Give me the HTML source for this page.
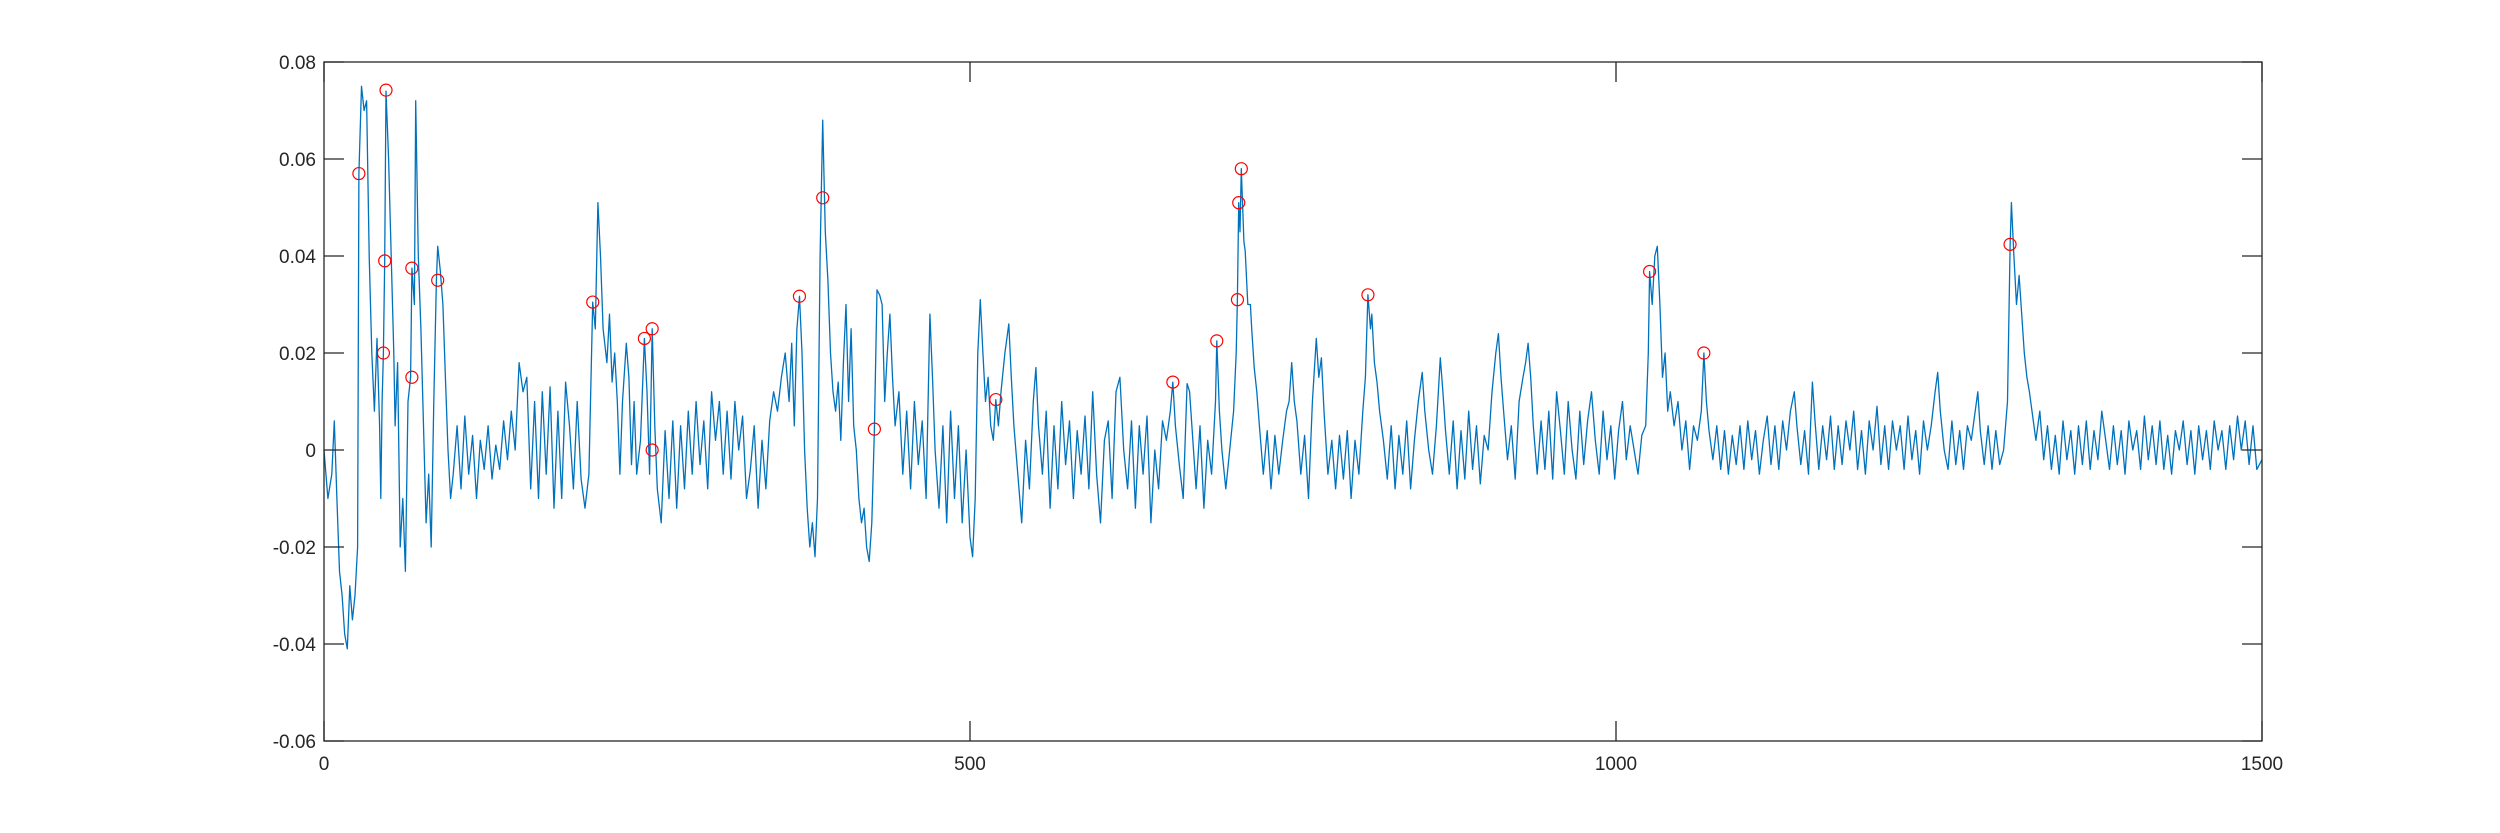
<!DOCTYPE html>
<html><head><meta charset="utf-8"><style>
html,body{margin:0;padding:0;background:#fff}
svg{display:block;font-family:"Liberation Sans",sans-serif}
</style></head><body>
<svg id="chart" width="2500" height="833" viewBox="0 0 2500 833">
<rect x="0" y="0" width="2500" height="833" fill="#fff"/>
<g id="plot"></g>
</svg>
<script>
const sampleX = [0,3,6,8,10,12,14,16,18,20,22,24,26,27,29,31,33,35,37,39,41,43,44,45,46,47,48,50,52,54,55,57,59,61,63,65,67,68,70,71,73,75,77,79,81,83,85,87,88,90,92,94,96,98,100,
103,106,109,112,115,118,121,124,127,130,133,136,139,142,145,148,151,154,157,160,163,166,169,172,175,178,181,184,187,190,193,196,199,202,205,208,210,212,214,216,219,221,223,225,227,229,231,234,236,238,240,242,245,248,250,252,254,256,258,261,264,267,270,273,276,279,282,285,288,291,294,297,300,
303,306,309,312,315,318,321,324,327,330,333,336,339,342,345,348,351,354,357,360,362,364,366,368,370,372,374,376,378,380,382,384,386,388,390,392,394,396,398,400,402,404,406,408,410,412,414,416,418,420,422,424,426,428,430,432,434,436,438,440,442,445,448,451,454,457,460,463,466,469,471,473,476,479,482,485,488,491,494,497,500,
502,504,506,508,510,512,514,516,518,520,522,524,527,530,532,534,537,540,543,546,549,551,553,556,559,562,565,568,571,574,577,580,583,586,589,592,595,598,601,604,607,610,613,616,619,622,625,628,631,634,637,640,643,646,649,652,655,657,659,662,665,668,670,672,675,678,681,684,687,690,691,693,695,698,
701,704,706,707,708,709,710,712,713,715,717,718,720,722,724,727,730,733,736,739,742,745,747,749,751,753,756,759,762,765,768,770,772,774,777,780,783,786,789,792,795,798,801,804,806,808,810,811,813,815,817,820,823,826,829,832,835,838,841,844,847,850,852,855,858,861,864,866,868,871,874,877,880,883,886,889,892,895,898,
901,904,907,909,911,913,916,919,922,925,928,930,932,934,936,939,942,945,948,951,954,957,960,963,966,969,972,975,978,981,984,987,990,993,996,999,1002,1005,1008,1011,1014,1017,1020,1023,1025,1026,1028,1030,1032,1034,1036,1038,1040,1042,1045,1048,1051,1054,1057,1060,1063,1066,1068,1070,1072,1075,1078,1081,1084,1087,1090,1093,1096,1099,
1102,1105,1108,1111,1114,1117,1120,1123,1126,1129,1132,1135,1138,1140,1143,1146,1149,1152,1154,1157,1160,1163,1166,1169,1172,1175,1178,1181,1184,1187,1190,1193,1196,1199,1202,1205,1208,1211,1214,1217,1220,1223,1226,1229,1232,1235,1238,1241,1244,1247,1249,1251,1254,1257,1260,1263,1266,1269,1272,1275,1278,1280,1282,1285,1288,1291,1294,1297,1300,
1303,1305,1306,1308,1310,1312,1314,1316,1318,1320,1322,1325,1328,1331,1334,1337,1340,1343,1346,1349,1352,1355,1358,1361,1364,1367,1370,1373,1376,1379,1382,1385,1388,1391,1394,1397,1400,1403,1406,1409,1412,1415,1418,1421,1424,1427,1430,1433,1436,1439,1442,1445,1448,1451,1454,1457,1460,1463,1466,1469,1472,1475,1478,1481,1484,1487,1490,1493,1496,1500];
const sampleY = [0,-0.01,-0.005,0.006,-0.01,-0.025,-0.03,-0.038,-0.041,-0.028,-0.035,-0.03,-0.02,0.057,0.075,0.07,0.072,0.04,0.02,0.008,0.023,0.005,-0.01,0.01,0.02,0.039,0.074,0.06,0.04,0.02,0.005,0.018,-0.02,-0.01,-0.025,0.01,0.015,0.0375,0.03,0.072,0.04,0.025,0.005,-0.015,-0.005,-0.02,0.01,0.035,0.042,0.037,0.03,0.015,0,-0.01,-0.005,
0.005,-0.008,0.007,-0.005,0.003,-0.01,0.002,-0.004,0.005,-0.006,0.001,-0.004,0.006,-0.002,0.008,0,0.018,0.012,0.015,-0.008,0.01,-0.01,0.012,-0.005,0.013,-0.012,0.008,-0.01,0.014,0.005,-0.008,0.01,-0.006,-0.012,-0.005,0.0305,0.025,0.051,0.04,0.025,0.018,0.028,0.014,0.02,0.01,-0.005,0.01,0.022,0.015,-0.003,0.01,-0.005,0.002,0.023,0.012,-0.005,0.025,0.005,-0.008,-0.015,0.004,-0.01,0.006,-0.012,0.005,-0.008,0.008,-0.005,0.01,-0.003,0.006,-0.008,0.012,
0.002,0.01,-0.005,0.008,-0.006,0.01,0,0.007,-0.01,-0.004,0.005,-0.012,0.002,-0.008,0.006,0.012,0.008,0.015,0.02,0.01,0.022,0.005,0.025,0.0317,0.02,0,-0.012,-0.02,-0.015,-0.022,-0.01,0.04,0.068,0.045,0.035,0.02,0.012,0.008,0.014,0.002,0.018,0.03,0.01,0.025,0.005,0,-0.01,-0.015,-0.012,-0.02,-0.023,-0.015,0.0043,0.033,0.032,0.03,0.01,0.02,0.028,0.015,0.005,0.012,-0.005,0.008,-0.008,0.01,-0.003,0.006,-0.01,0.028,0.015,0,-0.012,0.005,-0.015,0.008,-0.01,0.005,-0.015,0,-0.018,
-0.022,-0.01,0.02,0.031,0.02,0.01,0.015,0.005,0.002,0.0104,0.005,0.012,0.02,0.026,0.015,0.005,-0.005,-0.015,0.002,-0.008,0.01,0.017,0.005,-0.005,0.008,-0.012,0.005,-0.008,0.01,-0.003,0.006,-0.01,0.004,-0.005,0.007,-0.008,0.012,-0.005,-0.015,0.002,0.006,-0.01,0.012,0.015,0,-0.008,0.006,-0.012,0.005,-0.005,0.007,-0.015,0,-0.008,0.006,0.002,0.008,0.014,0.005,-0.003,-0.01,0.0137,0.012,0.004,-0.008,0.005,-0.012,0.002,-0.005,0.01,0.0225,0.008,0,-0.008,
0,0.008,0.02,0.031,0.051,0.045,0.058,0.043,0.041,0.03,0.03,0.025,0.017,0.012,0.005,-0.005,0.004,-0.008,0.003,-0.005,0.002,0.008,0.01,0.018,0.01,0.006,-0.005,0.003,-0.01,0.01,0.023,0.015,0.019,0.008,-0.005,0.002,-0.008,0.003,-0.006,0.004,-0.01,0.002,-0.005,0.008,0.015,0.032,0.025,0.028,0.018,0.014,0.008,0.002,-0.006,0.005,-0.008,0.003,-0.005,0.006,-0.008,0.002,0.01,0.016,0.008,0,-0.005,0.005,0.019,0.012,0.004,-0.005,0.006,-0.008,0.004,-0.006,0.008,-0.004,0.005,-0.007,0.003,
0,0.012,0.02,0.024,0.015,0.008,-0.002,0.005,-0.006,0.01,0.015,0.018,0.022,0.015,0.005,-0.005,0.006,-0.004,0.008,-0.006,0.012,0.004,-0.005,0.01,0,-0.006,0.008,-0.003,0.006,0.012,0.002,-0.005,0.008,-0.002,0.005,-0.006,0.004,0.01,-0.002,0.005,0,-0.005,0.003,0.005,0.02,0.0368,0.03,0.04,0.042,0.03,0.015,0.02,0.008,0.012,0.005,0.01,0,0.006,-0.004,0.005,0.002,0.008,0.02,0.01,0.004,-0.002,0.005,-0.004,0.004,-0.005,0.003,-0.003,0.005,-0.004,
0.006,-0.002,0.004,-0.005,0.002,0.007,-0.003,0.005,-0.004,0.006,0,0.008,0.012,0.005,-0.003,0.004,-0.005,0.014,0.006,-0.004,0.005,-0.002,0.007,-0.004,0.005,-0.003,0.006,0,0.008,-0.004,0.004,-0.005,0.006,0,0.009,-0.003,0.005,-0.004,0.006,0,0.005,-0.004,0.007,-0.002,0.004,-0.005,0.006,0,0.005,0.012,0.016,0.008,0,-0.004,0.006,-0.003,0.004,-0.004,0.005,0.002,0.008,0.012,0.004,-0.003,0.005,-0.004,0.004,-0.003,0,
0.01,0.042,0.051,0.04,0.03,0.036,0.028,0.02,0.015,0.012,0.008,0.002,0.008,-0.002,0.005,-0.004,0.003,-0.005,0.006,-0.002,0.004,-0.005,0.005,-0.003,0.006,-0.004,0.004,-0.002,0.008,0.002,-0.004,0.005,-0.003,0.004,-0.005,0.006,0,0.004,-0.004,0.007,-0.002,0.005,-0.003,0.006,-0.004,0.003,-0.005,0.004,0,0.006,-0.003,0.004,-0.005,0.005,-0.002,0.004,-0.004,0.006,0,0.004,-0.004,0.005,-0.002,0.007,0,0.006,-0.003,0.005,-0.004,-0.002];
const peakX = [27,48,47,46,68,68,88,208,248,254,254,368,386,426,520,657,691,707,708,710,808,1026,1068,1305];
const peakY = [0.057,0.0742,0.039,0.020,0.0375,0.015,0.035,0.0305,0.023,0.025,0.0,0.0317,0.052,0.0043,0.0104,0.014,0.0225,0.031,0.051,0.058,0.032,0.0368,0.020,0.0424];
const xTicks = [0,500,1000,1500];
const xTickLabels = ["0","500","1000","1500"];
const yTicks = [-0.06,-0.04,-0.02,0,0.02,0.04,0.06,0.08];
const yTickLabels = ["-0.06","-0.04","-0.02","0","0.02","0.04","0.06","0.08"];

const L=324,T=62,W=1938,H=679;
const xMin=0,xMax=1500,yMin=-0.06,yMax=0.08;
function xs(v){return L+(v-xMin)/(xMax-xMin)*W;}
function ys(v){return T+(yMax-v)/(yMax-yMin)*H;}
const NS="http://www.w3.org/2000/svg";
const g=document.getElementById('plot');
function mk(tag,attrs){const e=document.createElementNS(NS,tag);for(const k in attrs)e.setAttribute(k,attrs[k]);g.appendChild(e);return e;}

// series line
let d="";
for(let i=0;i<sampleX.length;i++){d+=(i?"L":"M")+xs(sampleX[i]).toFixed(1)+","+ys(sampleY[i]).toFixed(1);}
const line=mk('path',{d:d,fill:'none',stroke:'#0072BD','stroke-width':1.3,'stroke-linejoin':'round'});



// peak markers
for(let i=0;i<peakX.length;i++){
  const c=mk('circle',{cx:xs(peakX[i]),cy:ys(peakY[i]),r:6,fill:'none',stroke:'#FF0000','stroke-width':1.2});
  
  
}

// axes box
const box=mk('rect',{x:L,y:T,width:W,height:H,fill:'none',stroke:'#262626','stroke-width':1.3});



const tl=20;
for(let i=0;i<xTicks.length;i++){
  const x=xs(xTicks[i]);
  const t1=mk('line',{x1:x,y1:T+H,x2:x,y2:T+H-tl,stroke:'#262626','stroke-width':1.3});
  
  
  const t2=mk('line',{x1:x,y1:T,x2:x,y2:T+tl,stroke:'#262626','stroke-width':1.3});
  
  
  const lb=mk('text',{x:x,y:T+H+29,'text-anchor':'middle','font-size':19,fill:'#262626'});
  lb.textContent=xTickLabels[i];
  
  
}
for(let i=0;i<yTicks.length;i++){
  const y=ys(yTicks[i]);
  const t1=mk('line',{x1:L,y1:y,x2:L+tl,y2:y,stroke:'#262626','stroke-width':1.3});
  
  
  const t2=mk('line',{x1:L+W,y1:y,x2:L+W-tl,y2:y,stroke:'#262626','stroke-width':1.3});
  
  
  const lb=mk('text',{x:L-8,y:y+7,'text-anchor':'end','font-size':19,fill:'#262626'});
  lb.textContent=yTickLabels[i];
  
  
}
</script>
</body></html>
